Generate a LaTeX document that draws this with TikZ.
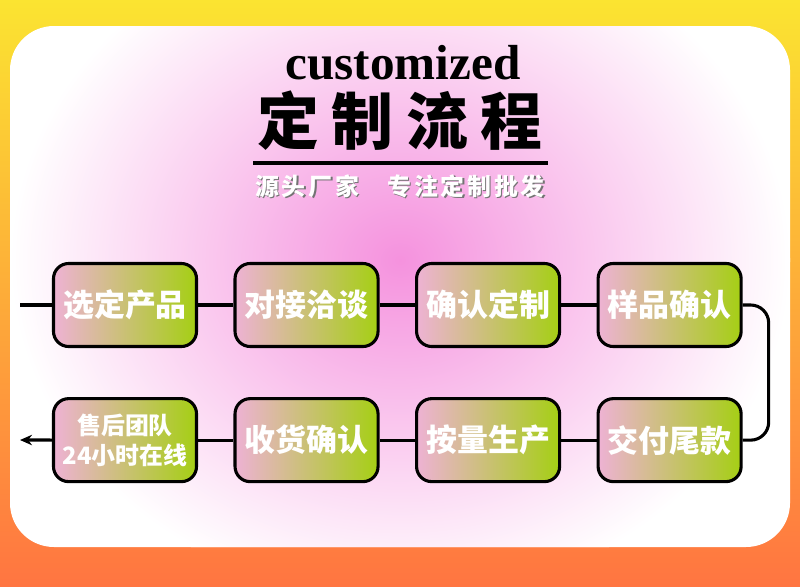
\documentclass[tikz,border=0pt]{standalone}
\usepackage{fontspec}
\setmainfont{Liberation Serif}
\newfontfamily\cjk{Noto Sans CJK SC}
\usetikzlibrary{arrows.meta,positioning}
\definecolor{SunYellow}{HTML}{FBE431}
\definecolor{DeepOrange}{HTML}{FF7541}
\definecolor{CandyPink}{HTML}{F592DE}
\definecolor{SoftPink}{HTML}{EEB2D4}
\definecolor{LimeGreen}{HTML}{A5CF14}

\begin{document}
\begin{tikzpicture}[
  x=0.025cm, y=-0.025cm,
  node distance=1.225cm and 0.885cm,
  stepbox/.style={draw=black,line width=2.2pt,rounded corners=0.38cm,left color=SoftPink,right color=LimeGreen,minimum width=3.575cm,minimum height=2.075cm,inner sep=0pt,text=white,align=center,font=\cjk\bfseries\fontsize{22}{26}\selectfont},
  link/.style={line width=2.2pt,draw=black},
  arrow/.style={-{Stealth[length=3mm,width=2.6mm]},line width=2.2pt,draw=black}
]
\useasboundingbox (0,0) rectangle (800,586);
% background and card
\shade[top color=SunYellow,bottom color=DeepOrange] (0,0) rectangle (800,586);
\fill[white,rounded corners=1.1cm] (10,26) rectangle (790,547);
\begin{scope}
  \clip[rounded corners=1.1cm] (10,26) rectangle (790,547);
  \shade[inner color=CandyPink,outer color=white] (400,260) ellipse [x radius=390, y radius=340];
\end{scope}

% heading
\node[font=\bfseries\fontsize{35}{40}\selectfont] (eng) at (403,63) {customized};
\node[font=\cjk\bfseries\fontsize{44}{50}\selectfont] (title) at (400,121) {定\kern9pt 制\kern9pt 流\kern9pt 程};
\draw[line width=2.2pt] (253,163) -- (548,163);
\node[text=black!55,font=\cjk\bfseries\fontsize{17}{20}\selectfont] (subshadow) at (401.5,187.5) {源\kern2pt 头\kern2pt 厂\kern2pt 家\kern20pt 专\kern2pt 注\kern2pt 定\kern2pt 制\kern2pt 批\kern2pt 发};
\node[text=white,font=\cjk\bfseries\fontsize{17}{20}\selectfont] (sub) at (400,186) {源\kern2pt 头\kern2pt 厂\kern2pt 家\kern20pt 专\kern2pt 注\kern2pt 定\kern2pt 制\kern2pt 批\kern2pt 发};

% steps
\node[stepbox] (choose) at (125,305) {选定产品};
\node[stepbox,right=of choose] (talk) {对接洽谈};
\node[stepbox,right=of talk] (confirm) {确认定制};
\node[stepbox,right=of confirm] (sample) {样品确认};
\node[stepbox,below=of sample] (payment) {交付尾款};
\node[stepbox,left=of payment] (produce) {按量生产};
\node[stepbox,left=of produce] (receive) {收货确认};
\node[stepbox,left=of receive,font=\cjk\bfseries\fontsize{17}{21}\selectfont] (service) {售后团队\\24小时在线};
\coordinate (start) at (20,305);
\coordinate (finish) at (20,440);

% connectors
\draw[link] (start) -- (choose);
\draw[link] (choose) -- (talk);
\draw[link] (talk) -- (confirm);
\draw[link] (confirm) -- (sample);
\draw[link,rounded corners=0.45cm] (sample.east) -- ++(26,0) |- (payment.east);
\draw[link] (payment) -- (produce);
\draw[link] (produce) -- (receive);
\draw[link] (receive) -- (service);
\draw[arrow] (service) -- (finish);
\end{tikzpicture}
\end{document}
